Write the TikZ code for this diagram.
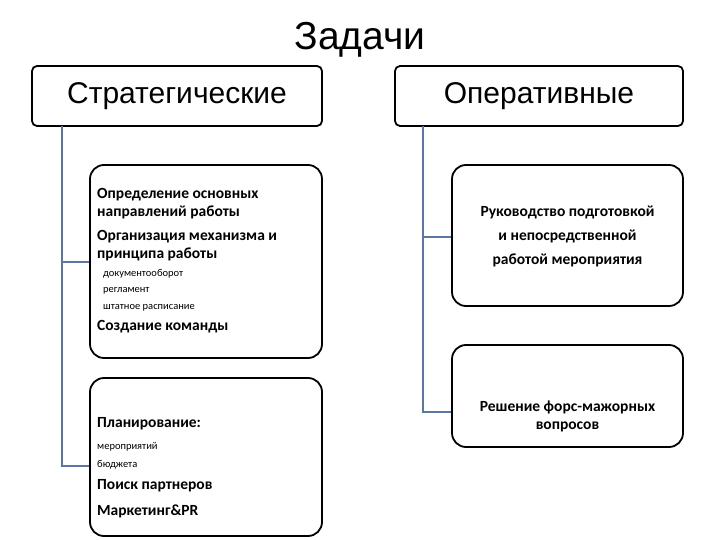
\documentclass[tikz,border=0pt]{standalone}
\usepackage{fontspec}
\setmainfont{Carlito}
\newfontfamily\arialf{Liberation Sans}
\definecolor{lc}{HTML}{5A76A8}
\begin{document}
\begin{tikzpicture}[x=1pt,y=-1pt,
  hdr/.style={draw,line width=1.8pt,rounded corners=5pt,minimum width=290pt,minimum height=60pt,font=\arialf\fontsize{30}{34}\selectfont},
  bx/.style={draw,line width=1.8pt,rounded corners=14pt},
  conn/.style={draw=lc,line width=1.2pt},
  big/.style={anchor=west,font=\bfseries\fontsize{15.5}{17}\selectfont,inner sep=0pt},
  sm/.style={anchor=west,font=\fontsize{10.5}{11}\selectfont,inner sep=0pt}]
\useasboundingbox (0,0) rectangle (720,540);
\node[font=\arialf\fontsize{39}{42}\selectfont] (title) at (360,40) {Задачи};
\node[hdr] (s) at (177,96) {Стратегические};
\node[hdr,minimum width=288pt] (o) at (539,96) {Оперативные};
\node[bx,minimum width=232pt,minimum height=193pt] (l1) at (206,261.5) {};
\node[bx,minimum width=232pt,minimum height=158pt] (l2) at (206,457) {};
\node[bx,minimum width=231pt,minimum height=141pt] (r1) at (567.5,235.5) {};
\node[bx,minimum width=231pt,minimum height=102pt] (r2) at (567.5,396) {};
\node[big] (t1) at (97,195) {Определение основных};
\node[big] (t2) at (97,212) {направлений работы};
\node[big] (t3) at (97,237) {Организация механизма и};
\node[big] (t4) at (97,254) {принципа работы};
\node[sm] (t5) at (103,274) {документооборот};
\node[sm] (t6) at (103,291) {регламент};
\node[sm] (t7) at (103,308) {штатное расписание};
\node[big] (t8) at (97,327) {Создание команды};
\node[big] (u1) at (97,424) {Планирование:};
\node[sm] (u2) at (97,447) {мероприятий};
\node[sm] (u3) at (97,465) {бюджета};
\node[big] (u4) at (97,486) {Поиск партнеров};
\node[big] (u5) at (97,511) {Маркетинг\&PR};
\node[font=\bfseries\fontsize{15.5}{24}\selectfont,align=center] (rt1) at (567.5,236) {Руководство подготовкой\\и непосредственной\\работой мероприятия};
\node[font=\bfseries\fontsize{15.5}{18}\selectfont,align=center] (rt2) at (567.5,416) {Решение форс-мажорных\\вопросов};
\coordinate (sl) at (62,126);
\coordinate (ol) at (423,126);
\draw[conn] (sl) |- (l1.west |- 0,262);
\draw[conn] (sl) |- (l2.west |- 0,466);
\draw[conn] (ol) |- (r1.west |- 0,237);
\draw[conn] (ol) |- (r2.west |- 0,412);
\end{tikzpicture}
\end{document}
